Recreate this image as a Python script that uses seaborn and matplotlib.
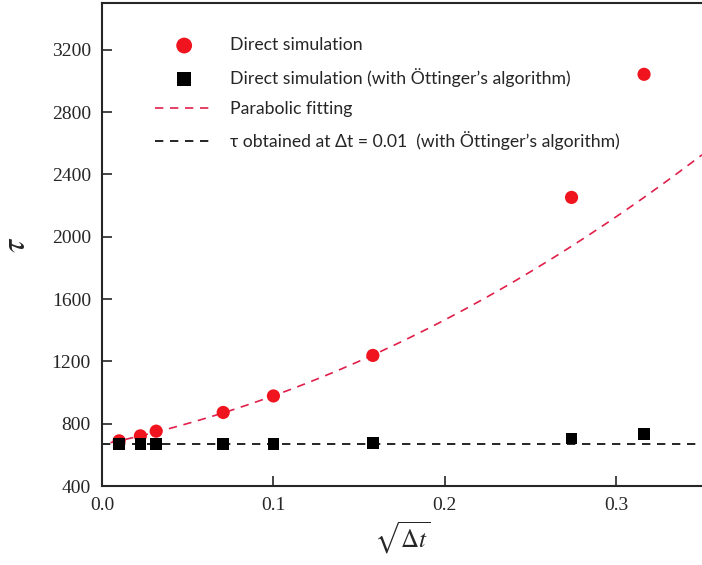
import numpy as np
import pandas as pd
import matplotlib
matplotlib.use("Agg")
import matplotlib.pyplot as plt
import seaborn as sns

# sqrt(dt) values and relaxation times
sqrt_dt = [0.01, 0.0224, 0.0316, 0.0707, 0.1, 0.158, 0.2739, 0.3162]
tau_direct = [690, 722, 752, 872, 978, 1238, 2252, 3042]
tau_ottinger = [668, 668, 668, 668, 670, 676, 706, 734]

# parabolic fit tau = a + b*x + c*x^2 (coefficients estimated from the curve)
fit_a, fit_b, fit_c = 667.0, 2245.0, 8755.0
fit_x = np.linspace(0.005, 0.35, 200)
fit_y = fit_a + fit_b * fit_x + fit_c * fit_x ** 2

tau_ref = 667  # tau at dt = 0.01 with Ottinger's algorithm

df_direct = pd.DataFrame({"x": sqrt_dt, "tau": tau_direct})
df_ott = pd.DataFrame({"x": sqrt_dt, "tau": tau_ottinger})
df_fit = pd.DataFrame({"x": fit_x, "tau": fit_y})
df_ref = pd.DataFrame({"x": [0.0, 0.35], "tau": [tau_ref, tau_ref]})

sns.set_style("ticks")
plt.rcParams["font.family"] = ["Liberation Serif", "DejaVu Serif"]
plt.rcParams["mathtext.fontset"] = "stix"

fig = plt.figure(figsize=(7.02, 5.65), dpi=100)
ax = fig.add_axes([0.1453, 0.1398, 0.8547, 0.855])

sns.lineplot(data=df_ref, x="x", y="tau", ax=ax, color="black", lw=1.2,
             linestyle=(0, (5, 4)), label=r"τ obtained at Δt = 0.01  (with Öttinger’s algorithm)")
sns.lineplot(data=df_fit, x="x", y="tau", ax=ax, color="#e0204a", lw=1.2,
             linestyle=(0, (5, 4)), label="Parabolic fitting")
sns.scatterplot(data=df_direct, x="x", y="tau", ax=ax, color="#f0141e", marker="o",
                s=90, edgecolor="none", label="Direct simulation", zorder=3)
sns.scatterplot(data=df_ott, x="x", y="tau", ax=ax, color="black", marker="s",
                s=70, edgecolor="none", label="Direct simulation (with Öttinger’s algorithm)", zorder=4)

ax.set_xlim(0, 0.35)
ax.set_ylim(400, 3500)
ax.set_xticks([0.0, 0.1, 0.2, 0.3])
ax.set_xticklabels(["0.0", "0.1", "0.2", "0.3"])
ax.set_yticks(range(400, 3201, 400))
ax.tick_params(direction="in", length=7, width=1.2, labelsize=14, pad=8)
for side in ["left", "bottom", "top"]:
    ax.spines[side].set_linewidth(1.5)
ax.spines["right"].set_visible(False)

ax.set_xlabel(r"$\sqrt{\Delta t}$", fontsize=18, labelpad=4)
ax.set_ylabel(r"$\tau$", fontsize=24, labelpad=14)

handles, labels = ax.get_legend_handles_labels()
order = [2, 3, 1, 0]
leg = ax.legend([handles[i] for i in order], [labels[i] for i in order],
                loc="upper left", bbox_to_anchor=(0.062, 0.962), frameon=False,
                handlelength=3.3, labelspacing=0.82, handletextpad=0.95,
                markerscale=1.2, prop={"family": "Lato", "size": 12.7})

fig.savefig("out.png", dpi=100)
